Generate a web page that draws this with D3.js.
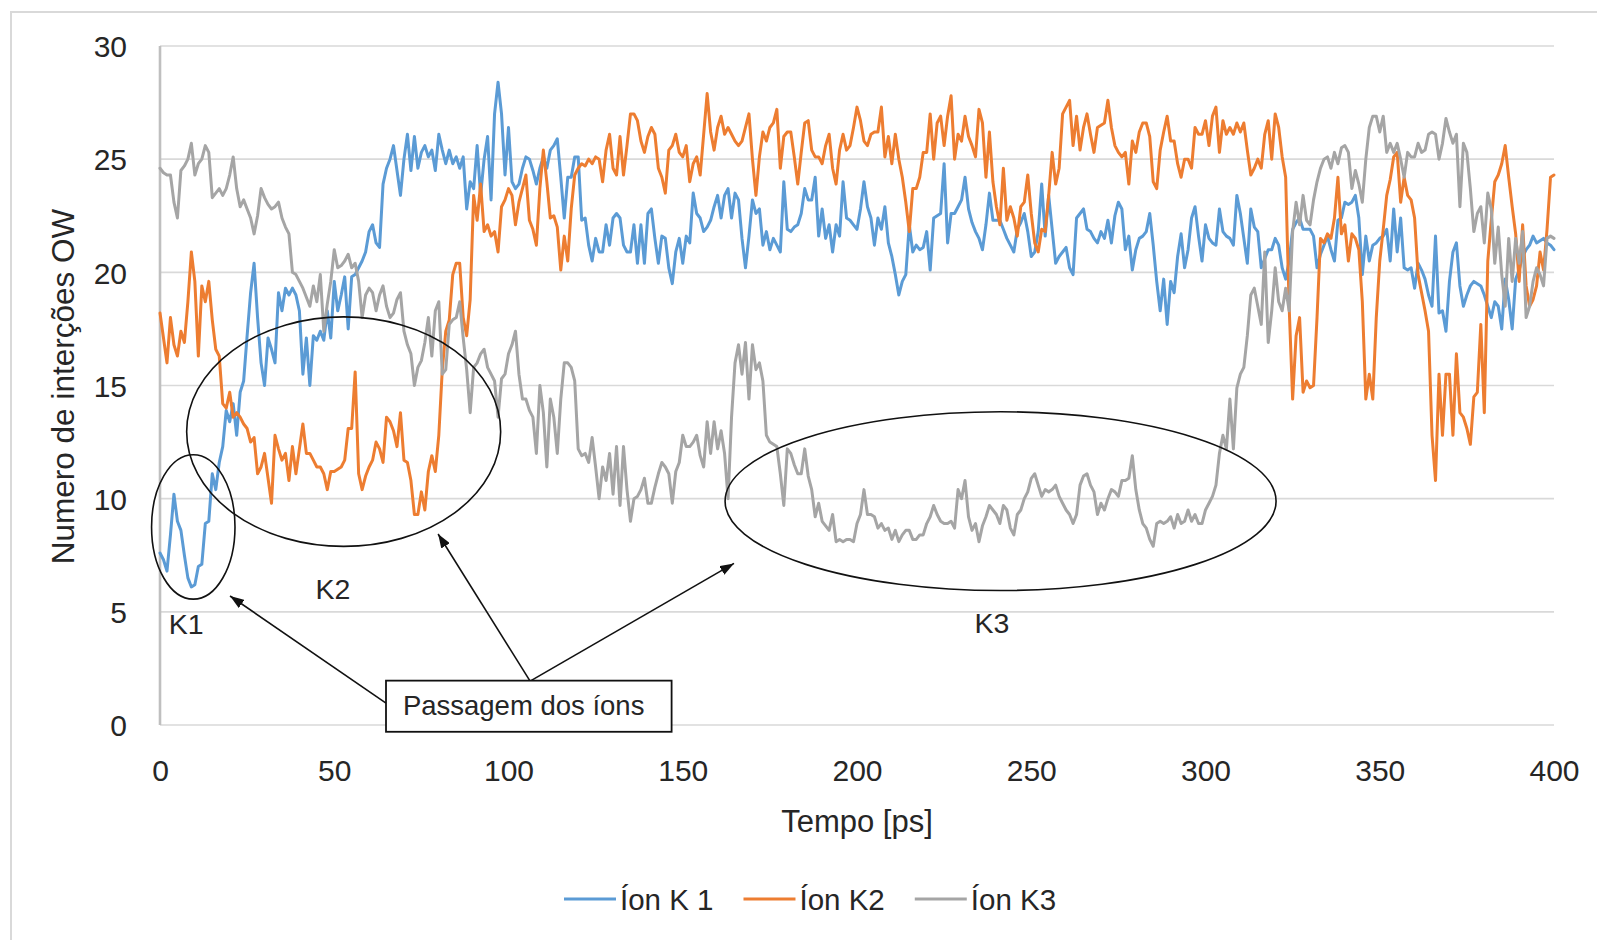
<!DOCTYPE html>
<html>
<head>
<meta charset="utf-8">
<script src="https://cdn.jsdelivr.net/npm/d3@7"></script>
<style>
  body { margin: 0; background: #fff; }
  svg { display: block; }
  text { font-family: "Liberation Sans", Arial, sans-serif; fill: #262626; }
</style>
</head>
<body>
<svg id="chart" width="1597" height="940"></svg>
<script>
// Number of OW interactions per potassium ion, sampled every 1 ps (0–400 ps)
const timePs = d3.range(0, 401);

const ionK1 = [
  7.6,7.3,6.8,8.4,10.2,9.0,8.6,7.5,6.5,6.1,
  6.2,7.0,7.1,8.9,9.0,11.1,10.4,11.6,12.3,13.9,
  13.4,14.2,12.8,14.7,15.2,17.2,19.1,20.4,18.0,16.0,
  15.0,17.1,16.6,16.0,19.1,18.3,19.3,19.0,19.3,19.0,
  18.3,15.5,17.1,15.0,17.2,17.0,17.4,17.0,18.3,17.1,
  19.6,18.3,19.0,19.8,17.5,19.8,19.9,20.2,20.5,20.9,
  21.8,22.1,21.3,21.1,23.9,24.6,25.0,25.6,24.5,23.4,
  25.0,26.1,24.5,26.0,24.6,25.3,25.6,25.1,25.4,24.5,
  26.1,25.4,24.8,25.4,24.8,25.1,24.6,25.1,22.8,24.0,
  23.7,25.6,23.4,25.0,26.0,23.2,27.0,28.4,27.0,24.3,
  26.4,24.0,23.7,23.9,24.6,25.1,25.0,24.5,23.9,24.6,
  25.1,24.6,25.4,25.6,25.9,24.2,22.4,24.2,24.2,25.1,
  25.1,22.3,22.4,21.2,20.5,21.5,20.9,20.9,22.1,21.2,
  22.4,22.6,22.4,21.2,20.9,20.9,22.1,20.4,22.1,20.4,
  22.6,22.8,21.5,20.4,21.6,21.5,20.2,19.5,20.9,21.5,
  20.4,21.6,21.3,23.5,22.6,22.4,21.8,22.0,22.3,22.9,
  23.4,22.4,23.4,23.7,22.4,23.5,23.2,21.5,20.2,21.6,
  23.2,22.6,22.8,21.2,21.8,21.0,21.5,21.2,20.9,24.0,
  21.9,21.8,22.0,22.1,22.6,23.7,23.2,23.2,24.2,21.6,
  22.8,21.5,22.1,20.9,22.1,21.6,24.0,22.4,22.3,22.1,
  21.9,22.8,24.0,22.9,22.4,21.2,22.4,21.9,22.9,21.3,
  20.7,19.9,19.0,19.6,19.9,22.1,20.9,21.2,21.0,21.1,
  21.8,20.1,22.4,22.5,22.6,24.8,21.3,22.6,22.6,22.9,
  23.2,24.2,22.8,22.2,21.8,21.5,21.0,22.1,23.5,22.3,
  22.3,22.3,21.9,21.5,21.2,20.9,21.9,22.2,22.6,21.8,
  20.7,20.9,21.8,23.9,21.6,23.4,21.9,20.4,20.7,20.9,
  21.1,20.2,19.9,22.4,22.6,22.8,21.9,21.8,21.5,21.3,
  21.8,21.5,22.3,21.3,22.5,23.1,22.8,21.0,21.6,20.1,
  21.0,21.5,21.6,21.8,22.6,21.2,19.6,18.3,19.7,17.7,
  19.6,19.1,20.7,21.7,20.2,21.0,22.4,22.9,21.6,20.5,
  22.1,21.5,21.3,21.2,22.8,21.8,21.6,21.5,21.2,23.4,
  22.6,21.5,20.4,22.8,22.0,21.8,20.2,20.6,21.0,21.0,
  21.5,21.2,20.2,19.7,20.5,21.9,22.2,22.4,21.9,21.9,
  21.9,21.6,20.2,20.8,21.2,21.6,21.0,20.5,22.3,22.4,
  23.1,23.0,23.1,23.4,22.4,19.9,21.6,20.5,21.2,21.3,
  21.5,21.6,21.9,20.5,22.8,20.9,22.4,20.2,20.1,20.2,
  19.3,20.4,20.1,19.7,19.0,18.5,21.6,18.2,18.3,17.4,
  19.6,20.9,21.3,19.4,18.5,19.0,19.4,19.6,19.5,19.4,
  19.0,18.5,18.0,18.7,18.5,17.5,19.7,18.8,17.5,19.7,
  20.1,20.7,21.0,21.2,21.6,21.3,21.4,21.5,21.3,21.2,
  21.0
];

const ionK2 = [
  18.2,17.1,16.0,18.0,16.8,16.3,17.4,16.9,18.7,20.9,
  19.6,16.3,19.4,18.7,19.6,17.9,16.6,16.3,14.2,14.0,
  14.7,13.6,13.8,13.6,13.3,13.1,12.5,12.7,11.1,11.4,
  12.0,10.9,9.8,12.8,12.2,11.7,12.0,10.8,12.3,11.1,
  12.2,13.3,12.0,12.0,11.7,11.4,11.4,11.1,10.4,11.2,
  11.2,11.3,11.4,11.7,13.1,13.1,15.6,11.1,10.4,11.0,
  11.4,11.7,12.5,12.2,11.6,13.6,13.4,13.0,12.3,13.8,
  11.7,11.6,10.8,9.3,9.3,10.3,9.5,11.2,11.9,11.2,
  12.8,15.7,17.4,17.9,19.9,20.4,20.4,18.0,17.2,18.8,
  23.4,22.3,23.9,21.8,22.1,21.6,21.8,20.9,22.9,23.2,
  23.7,23.4,22.1,23.1,23.7,24.3,22.3,21.9,21.2,23.7,
  25.4,24.0,22.4,22.5,22.0,20.1,21.6,20.5,22.8,24.3,
  24.6,24.8,24.7,25.0,24.8,25.1,25.0,24.0,25.4,26.1,
  24.6,24.3,26.0,24.3,25.6,27.0,27.0,26.7,25.8,25.3,
  26.0,26.4,26.1,24.6,24.2,23.5,25.4,25.6,26.1,25.3,
  25.1,25.6,24.0,24.8,25.1,24.3,26.1,27.9,26.2,25.4,
  26.4,26.9,26.1,26.4,26.1,25.8,25.6,25.8,26.4,27.0,
  25.0,23.4,25.1,26.2,25.8,26.4,26.6,27.2,24.6,26.0,
  26.2,26.2,25.1,23.9,25.3,26.6,26.7,25.4,25.1,25.1,
  24.8,25.6,26.1,24.6,23.9,25.4,26.1,25.4,25.6,26.4,
  27.3,26.7,25.8,25.6,26.1,26.2,26.2,27.3,25.1,26.0,
  24.8,26.1,25.0,24.2,23.1,21.8,23.7,23.7,24.2,25.3,
  25.3,27.0,25.0,26.6,26.9,25.6,26.9,27.8,25.0,26.1,
  25.8,26.9,26.0,25.6,25.1,27.2,26.6,24.2,26.2,24.0,
  22.9,22.1,24.6,22.3,22.9,22.4,21.6,22.9,23.1,24.3,
  22.6,21.3,20.9,21.9,21.8,23.4,25.3,23.9,24.6,27.0,
  27.3,27.6,25.6,26.9,25.4,26.4,27.0,26.1,25.3,26.4,
  26.5,26.6,27.6,26.4,25.6,25.3,25.1,25.3,23.9,25.8,
  25.3,26.2,26.6,26.6,26.0,24.0,23.7,25.4,26.2,26.9,
  25.8,25.8,24.8,24.2,25.0,25.0,24.6,26.4,26.1,26.1,
  26.7,25.6,26.9,27.3,25.3,26.7,26.1,26.4,26.1,26.6,
  26.2,26.6,25.4,24.3,24.6,25.0,24.6,26.1,26.7,25.0,
  27.0,26.4,25.1,24.2,18.5,14.4,17.2,18.0,14.7,15.2,
  14.9,15.0,18.0,21.5,21.3,21.7,21.5,22.4,24.2,21.7,
  22.1,20.5,21.7,21.5,21.0,18.7,14.4,15.5,14.4,18.0,
  20.5,21.9,23.4,24.1,25.1,25.3,23.1,24.2,23.4,23.2,
  22.4,19.9,19.1,18.3,17.4,12.8,10.8,15.5,12.8,15.5,
  15.5,12.8,16.4,13.8,13.6,13.1,12.4,14.5,14.7,17.7,
  13.8,20.5,22.3,24.0,24.3,24.8,25.6,24.2,22.9,21.7,
  19.6,22.1,19.4,18.5,18.8,19.4,20.9,20.1,21.9,24.2,
  24.3
];

const ionK3 = [
  24.6,24.4,24.3,24.3,23.1,22.4,24.5,24.7,25.0,25.7,
  24.3,24.8,25.0,25.6,25.3,23.3,23.5,23.7,23.4,23.7,
  24.3,25.1,23.7,22.9,23.2,22.8,22.4,21.7,22.5,23.7,
  23.3,23.0,22.8,22.9,23.1,22.4,22.0,21.7,20.0,19.9,
  19.6,19.3,18.9,18.5,19.4,18.7,19.9,17.4,18.6,19.6,
  21.0,20.2,20.3,20.5,20.8,20.2,20.4,19.6,18.0,19.0,
  19.3,19.1,18.3,19.0,19.4,18.5,18.0,18.2,18.8,19.1,
  17.4,16.8,16.4,15.0,15.8,16.1,16.9,18.0,16.3,18.3,
  18.7,15.5,15.7,17.7,17.9,18.0,18.7,17.1,15.7,13.8,
  15.8,16.0,16.4,16.6,15.8,15.5,15.2,13.6,15.3,15.5,
  16.4,16.8,17.4,15.5,14.4,14.4,13.9,13.6,12.0,15.0,
  13.8,11.4,14.4,13.6,12.0,14.4,16.0,16.0,15.8,15.2,
  12.2,11.9,12.0,11.6,12.7,11.4,10.0,11.4,10.8,12.0,
  10.2,12.3,9.7,12.3,10.4,9.0,10.0,10.1,10.4,10.9,
  9.8,9.8,10.5,11.1,11.6,11.4,11.1,9.8,11.2,11.6,
  12.8,12.3,12.3,12.5,12.8,11.9,11.4,13.4,12.0,13.4,
  12.2,13.0,12.0,10.0,13.6,16.0,16.8,15.5,16.9,14.4,
  16.8,15.7,16.0,15.2,12.8,12.5,12.4,12.3,11.1,9.7,
  12.2,12.0,11.5,11.1,11.1,12.2,11.0,10.4,9.2,9.8,
  9.0,8.8,8.6,9.3,8.1,8.2,8.1,8.2,8.2,8.1,
  8.9,9.3,10.4,9.3,9.3,9.2,8.7,8.9,8.6,8.7,
  8.2,8.6,8.1,8.4,8.6,8.6,8.2,8.2,8.4,8.4,
  8.9,9.2,9.7,9.3,9.0,8.9,8.9,9.0,8.7,10.4,
  10.0,10.8,9.2,8.6,8.9,8.1,8.8,9.2,9.7,9.5,
  9.3,8.9,9.7,9.5,8.7,8.4,9.3,9.5,10.0,10.3,
  10.9,11.1,10.6,10.1,10.4,10.3,10.4,10.6,10.1,9.8,
  9.5,9.3,8.9,9.3,10.6,11.0,11.1,10.6,10.3,9.3,
  9.8,9.5,10.0,10.4,10.3,10.1,10.8,10.8,10.9,11.9,
  10.4,9.5,8.9,8.7,8.2,7.9,8.9,9.0,8.9,9.0,
  9.2,8.7,9.3,8.9,9.0,9.5,9.0,9.3,8.9,8.9,
  9.5,9.8,10.1,10.6,12.0,12.8,12.2,14.4,12.2,14.9,
  15.5,15.8,17.2,19.0,19.3,18.5,17.7,20.9,16.9,18.3,
  20.2,18.7,18.3,19.3,18.3,21.8,23.1,22.1,23.4,22.3,
  22.1,23.2,24.0,24.6,25.0,25.1,24.6,25.3,24.8,25.5,
  25.6,25.3,23.7,24.5,23.9,23.1,25.0,26.4,26.9,26.9,
  26.2,26.9,25.3,25.7,25.3,25.7,25.0,24.2,25.3,25.1,
  25.1,25.7,25.3,25.4,26.1,26.2,26.1,25.0,25.7,26.8,
  26.2,25.7,26.1,22.9,25.7,25.3,23.7,21.8,22.6,22.9,
  21.3,23.5,22.8,20.4,22.0,19.9,18.5,21.5,19.6,21.5,
  20.4,21.8,18.0,18.5,19.6,20.2,19.9,19.4,21.5,21.6,
  21.5
];

const seriesNames = ["Íon K 1", "Íon K2", "Íon K3"];
const seriesValues = [ionK1, ionK2, ionK3];
const seriesColors = ["#5B9BD5", "#ED7D31", "#A5A5A5"];

const xTicks = [0, 50, 100, 150, 200, 250, 300, 350, 400];
const yTicks = [0, 5, 10, 15, 20, 25, 30];

const xTitle = "Tempo [ps]";
const yTitle = "Numero de interções OW";

// Highlighted ion-passage regions (centre and radii in ps / interaction units)
const regions = [
  { name: "K1", t: 9.55,  v: 8.75,  rt: 11.97, rv: 3.19, labelT: 7.5,   labelV: 4.46 },
  { name: "K2", t: 52.7,  v: 12.96, rt: 45.05, rv: 5.07, labelT: 49.6,  labelV: 6.0 },
  { name: "K3", t: 241.2, v: 9.89,  rt: 79.05, rv: 3.95, labelT: 238.7, labelV: 4.5 }
];

// Callout box and its arrows, in data units
const callout = { text: "Passagem dos íons", t0: 64.85, t1: 146.8, v0: -0.30, v1: 1.96, textT: 69.7, textV: 0.44 };
const calloutArrows = [
  { from: [64.85, 0.97], to: [20.1, 5.70] },
  { from: [106.2, 1.94], to: [79.8, 8.44] },
  { from: [106.2, 1.94], to: [164.7, 7.14] }
];

const svg = d3.select("#chart");

const x = d3.scaleLinear().domain([0, 400]).range([160, 1554]);
const y = d3.scaleLinear().domain([0, 30]).range([725, 46]);

// chart frame
svg.append("rect")
  .attr("x", 11).attr("y", 12).attr("width", 1620).attr("height", 1000)
  .attr("fill", "#fff").attr("stroke", "#d9d9d9").attr("stroke-width", 2);

// horizontal gridlines
svg.append("g")
  .selectAll("line").data(yTicks).join("line")
  .attr("x1", x(0)).attr("x2", x(400))
  .attr("y1", d => y(d)).attr("y2", d => y(d))
  .attr("stroke", "#d9d9d9").attr("stroke-width", 1.6);

// vertical axis line
svg.append("line")
  .attr("x1", x(0)).attr("x2", x(0))
  .attr("y1", y(30)).attr("y2", y(0))
  .attr("stroke", "#bfbfbf").attr("stroke-width", 2.6);

// y tick labels
const yAxis = d3.axisLeft(y).tickValues(yTicks).tickSize(0).tickPadding(0).tickFormat(d3.format("d"));
const yAxisG = svg.append("g").attr("transform", `translate(127,0)`).call(yAxis);
yAxisG.select(".domain").remove();
yAxisG.selectAll("text")
  .attr("font-size", 30).attr("fill", "#262626")
  .attr("font-family", '"Liberation Sans", Arial, sans-serif')
  .attr("x", 0).attr("dy", "0.36em");

// x tick labels
const xAxis = d3.axisBottom(x).tickValues(xTicks).tickSize(0).tickPadding(0).tickFormat(d3.format("d"));
const xAxisG = svg.append("g").attr("transform", `translate(0,770)`).call(xAxis);
xAxisG.select(".domain").remove();
xAxisG.selectAll("text")
  .attr("font-size", 30).attr("fill", "#262626")
  .attr("font-family", '"Liberation Sans", Arial, sans-serif')
  .attr("y", 0).attr("dy", "0.36em");

// axis titles
svg.append("text")
  .attr("x", (x(0) + x(400)) / 2).attr("y", 821).attr("dy", "0.36em")
  .attr("text-anchor", "middle").attr("font-size", 31)
  .text(xTitle);

svg.append("text")
  .attr("transform", `translate(63,${(y(0) + y(30)) / 2 + 1}) rotate(-90)`)
  .attr("dy", "0.36em")
  .attr("text-anchor", "middle").attr("font-size", 31.5)
  .text(yTitle);

// series lines (K3 drawn last, on top)
const line = d3.line()
  .x((d, i) => x(timePs[i]))
  .y(d => y(d));

svg.append("g")
  .selectAll("path").data(seriesValues).join("path")
  .attr("d", d => line(d))
  .attr("fill", "none")
  .attr("stroke", (d, i) => seriesColors[i])
  .attr("stroke-width", 3)
  .attr("stroke-linejoin", "round")
  .attr("stroke-linecap", "round");

// region ellipses and labels
const ann = svg.append("g");
ann.selectAll("ellipse").data(regions).join("ellipse")
  .attr("cx", d => x(d.t)).attr("cy", d => y(d.v))
  .attr("rx", d => x(d.rt) - x(0)).attr("ry", d => y(0) - y(d.rv))
  .attr("fill", "none").attr("stroke", "#111").attr("stroke-width", 1.6);

ann.selectAll("text.region").data(regions).join("text")
  .attr("class", "region")
  .attr("x", d => x(d.labelT)).attr("y", d => y(d.labelV)).attr("dy", "0.36em")
  .attr("text-anchor", "middle").attr("font-size", 28.5)
  .text(d => d.name);

// arrowhead marker
svg.append("defs").append("marker")
  .attr("id", "arrowhead")
  .attr("viewBox", "0 0 14 10")
  .attr("refX", 14).attr("refY", 5)
  .attr("markerWidth", 14).attr("markerHeight", 10)
  .attr("markerUnits", "userSpaceOnUse")
  .attr("orient", "auto")
  .append("path").attr("d", "M0,0 L14,5 L0,10 Z").attr("fill", "#111");

ann.selectAll("line.arrow").data(calloutArrows).join("line")
  .attr("class", "arrow")
  .attr("x1", d => x(d.from[0])).attr("y1", d => y(d.from[1]))
  .attr("x2", d => x(d.to[0])).attr("y2", d => y(d.to[1]))
  .attr("stroke", "#111").attr("stroke-width", 1.6)
  .attr("marker-end", "url(#arrowhead)");

// callout box
ann.append("rect")
  .attr("x", x(callout.t0)).attr("y", y(callout.v1))
  .attr("width", x(callout.t1) - x(callout.t0))
  .attr("height", y(callout.v0) - y(callout.v1))
  .attr("fill", "#fff").attr("stroke", "#111").attr("stroke-width", 1.8);

ann.append("text")
  .attr("x", x(callout.textT)).attr("y", y(callout.textV))
  .attr("font-size", 27.5)
  .text(callout.text);

// legend
const legend = svg.append("g").attr("transform", "translate(564,899)");
let cursor = 0;
seriesNames.forEach((name, i) => {
  const item = legend.append("g").attr("transform", `translate(${cursor},0)`);
  item.append("line")
    .attr("x1", 0).attr("x2", 52).attr("y1", 0).attr("y2", 0)
    .attr("stroke", seriesColors[i]).attr("stroke-width", 3);
  const t = item.append("text")
    .attr("x", 56).attr("y", 0).attr("dy", "0.36em")
    .attr("font-size", 29.5)
    .text(name);
  cursor += 56 + t.node().getComputedTextLength() + 30;
});
</script>
</body>
</html>
